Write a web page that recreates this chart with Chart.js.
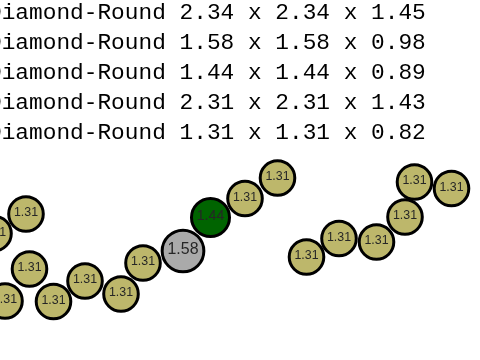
<!DOCTYPE html>
<html>
<head>
<meta charset="utf-8">
<script src="https://cdn.jsdelivr.net/npm/chart.js@4/dist/chart.umd.min.js"></script>
<style>
  html, body { margin: 0; padding: 0; background: #fff; overflow: hidden; }
  #wrap { position: absolute; left: -12px; top: -2px; width: 492px; height: 362px; }
</style>
</head>
<body>
<div id="wrap"><canvas id="chart"></canvas></div>
<script>
// lines of text shown above the stones
var titleLines = [
  'Diamond-Round 2.34 x 2.34 x 1.45',
  'Diamond-Round 1.58 x 1.58 x 0.98',
  'Diamond-Round 1.44 x 1.44 x 0.89',
  'Diamond-Round 2.31 x 2.31 x 1.43',
  'Diamond-Round 1.31 x 1.31 x 0.82'
];

// stone positions and their size labels
var stoneX = [-6, 26, 29.5, 5, 53.5, 85, 121, 143, 183, 210.5, 245, 277.5, 306.5, 339, 376.5, 405, 414.5, 451.5];
var stoneY = [233.5, 214, 269, 301, 301.5, 281, 294, 263, 251, 217.5, 198.5, 178, 257, 238.5, 242, 217, 182, 188.5];
var stoneSize = [1.31, 1.31, 1.31, 1.31, 1.31, 1.31, 1.31, 1.31, 1.58, 1.44, 1.31, 1.31, 1.31, 1.31, 1.31, 1.31, 1.31, 1.31];

var points = [];
for (var i = 0; i < stoneX.length; ++i) {
  points.push({ x: stoneX[i], y: stoneY[i] });
}

function stoneColor(size) {
  if (size === 1.58) return '#aaaaaa';
  if (size === 1.44) return '#006400';
  return '#bdb76b';
}

function stoneRadius(size) {
  return size * 13.2;
}

// draws the size label in the middle of every bubble
var bubbleLabels = {
  id: 'bubbleLabels',
  afterDatasetsDraw: function(chart) {
    var ctx = chart.ctx;
    var meta = chart.getDatasetMeta(0);
    ctx.save();
    ctx.textAlign = 'center';
    ctx.textBaseline = 'middle';
    ctx.fillStyle = '#262626';
    meta.data.forEach(function(el, idx) {
      var s = stoneSize[idx];
      var fs = 12.4 + (s - 1.31) * 13;
      ctx.font = fs.toFixed(1) + 'px "Liberation Sans", Arial, sans-serif';
      ctx.fillText(s.toFixed(2), el.x, el.y - 1);
    });
    ctx.restore();
  }
};

var ctx = document.getElementById('chart').getContext('2d');
var chart = new Chart(ctx, {
  type: 'bubble',
  data: {
    datasets: [{
      label: 'stones',
      data: points,
      clip: false,
      backgroundColor: function(c) { return stoneColor(stoneSize[c.dataIndex]); },
      borderColor: '#000',
      borderWidth: 3,
      radius: function(c) { return stoneRadius(stoneSize[c.dataIndex]); }
    }]
  },
  options: {
    responsive: true,
    maintainAspectRatio: false,
    animation: false,
    layout: { padding: 0, autoPadding: false },
    scales: {
      x: { type: 'linear', display: false, min: -12, max: 480 },
      y: { type: 'linear', display: false, reverse: true, min: 148, max: 360 }
    },
    plugins: {
      legend: { display: false },
      tooltip: { enabled: false },
      title: {
        display: true,
        text: titleLines,
        align: 'start',
        color: '#000',
        padding: { top: 0, bottom: 0 },
        font: { family: '"Liberation Mono", "DejaVu Sans Mono", monospace', size: 22.8, weight: 'normal', lineHeight: '30px' }
      }
    }
  },
  plugins: [bubbleLabels]
});
</script>
</body>
</html>
